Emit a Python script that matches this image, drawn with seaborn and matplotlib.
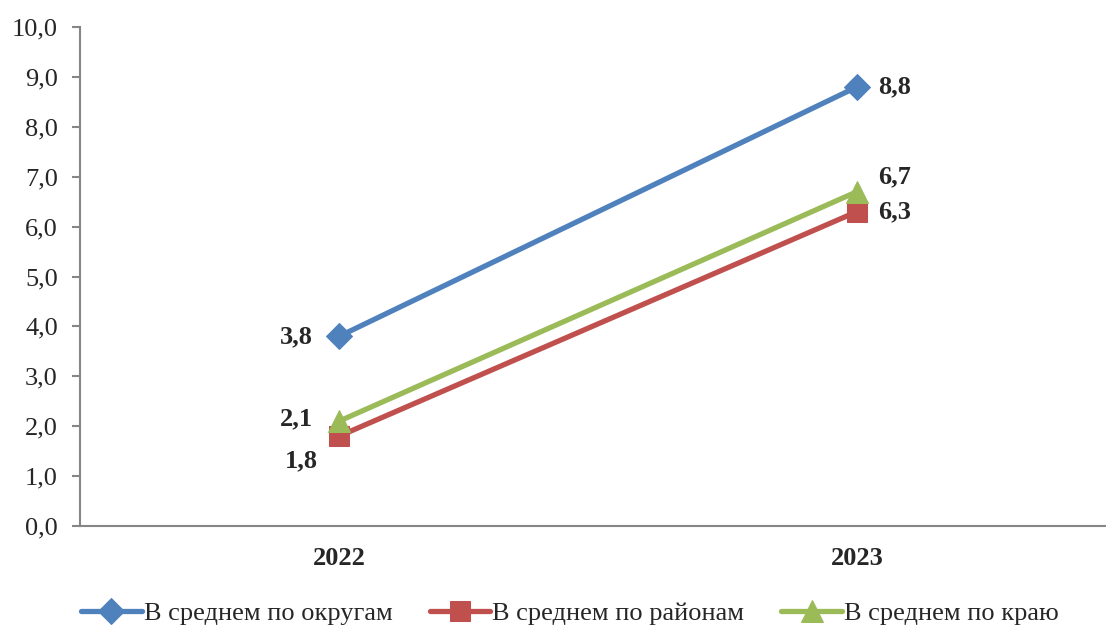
import pandas as pd
import seaborn as sns
import matplotlib.pyplot as plt
from matplotlib.ticker import FixedLocator, FuncFormatter

# Data
years = ['2022', '2023']
okruga = [3.8, 8.8]
rayony = [1.8, 6.3]
kray = [2.1, 6.7]
series_names = ['В среднем по округам', 'В среднем по районам', 'В среднем по краю']

rows = []
for name, vals in zip(series_names, [okruga, rayony, kray]):
    for i, v in enumerate(vals):
        rows.append({'pos': i, 'value': v, 'series': name})
df = pd.DataFrame(rows)

sns.set_style('white')
plt.rcParams['font.family'] = ['Liberation Serif', 'DejaVu Serif']

colors = ['#4F81BD', '#C0504D', '#9BBB59']
markers = ['D', 's', '^']
msizes = [13, 14, 16]
axis_gray = '#868686'

fig = plt.figure(figsize=(11.06, 6.33), dpi=100)
ax = fig.add_axes([80 / 1106, 107 / 633, 1036 / 1106, 499 / 633])

for name, c, m, ms in zip(series_names, colors, markers, msizes):
    sns.lineplot(data=df[df['series'] == name], x='pos', y='value', color=c,
                 marker=m, markersize=ms, markeredgecolor=c, linewidth=3.8,
                 label=name, ax=ax)

# Data labels
fmt = lambda v: f'{v:.1f}'.replace('.', ',')
lab = dict(fontsize=19, fontweight='bold')
ax.text(-0.05, okruga[0], fmt(okruga[0]), ha='right', va='center', **lab)
ax.text(1.04, okruga[1], fmt(okruga[1]), ha='left', va='center', **lab)
ax.text(-0.05, kray[0] + 0.05, fmt(kray[0]), ha='right', va='center', **lab)
ax.text(-0.04, rayony[0] - 0.5, fmt(rayony[0]), ha='right', va='center', **lab)
ax.text(1.04, kray[1] + 0.3, fmt(kray[1]), ha='left', va='center', **lab)
ax.text(1.04, rayony[1], fmt(rayony[1]), ha='left', va='center', **lab)

# Axes
ax.set_xlim(-0.5, 1.5)
ax.set_ylim(0, 10)
ax.set_yticks([i for i in range(11)])
ax.yaxis.set_major_formatter(FuncFormatter(lambda v, p: fmt(v)))
ax.set_xticks([0, 1])
ax.set_xticklabels(years, fontweight='bold')
ax.xaxis.set_minor_locator(FixedLocator([-0.5, 0.5, 1.5]))
ax.tick_params(axis='x', which='major', length=0, pad=15, labelsize=19)
ax.tick_params(axis='x', which='minor', length=6, width=1.5, color=axis_gray, direction='out')
ax.tick_params(axis='y', length=6, width=1.5, color=axis_gray, direction='out', pad=10, labelsize=19, left=True)
ax.set_xlabel('')
ax.set_ylabel('')
for s in ['top', 'right']:
    ax.spines[s].set_visible(False)
for s in ['left', 'bottom']:
    ax.spines[s].set_color(axis_gray)
    ax.spines[s].set_linewidth(1.5)

ax.legend(loc='center', bbox_to_anchor=(570 / 1106, 1 - 613 / 633),
          bbox_transform=fig.transFigure, ncol=3, frameon=False, fontsize=19,
          handlelength=2.3, handletextpad=0.08, columnspacing=1.4)

plt.savefig('out.png', dpi=100)
plt.close()
